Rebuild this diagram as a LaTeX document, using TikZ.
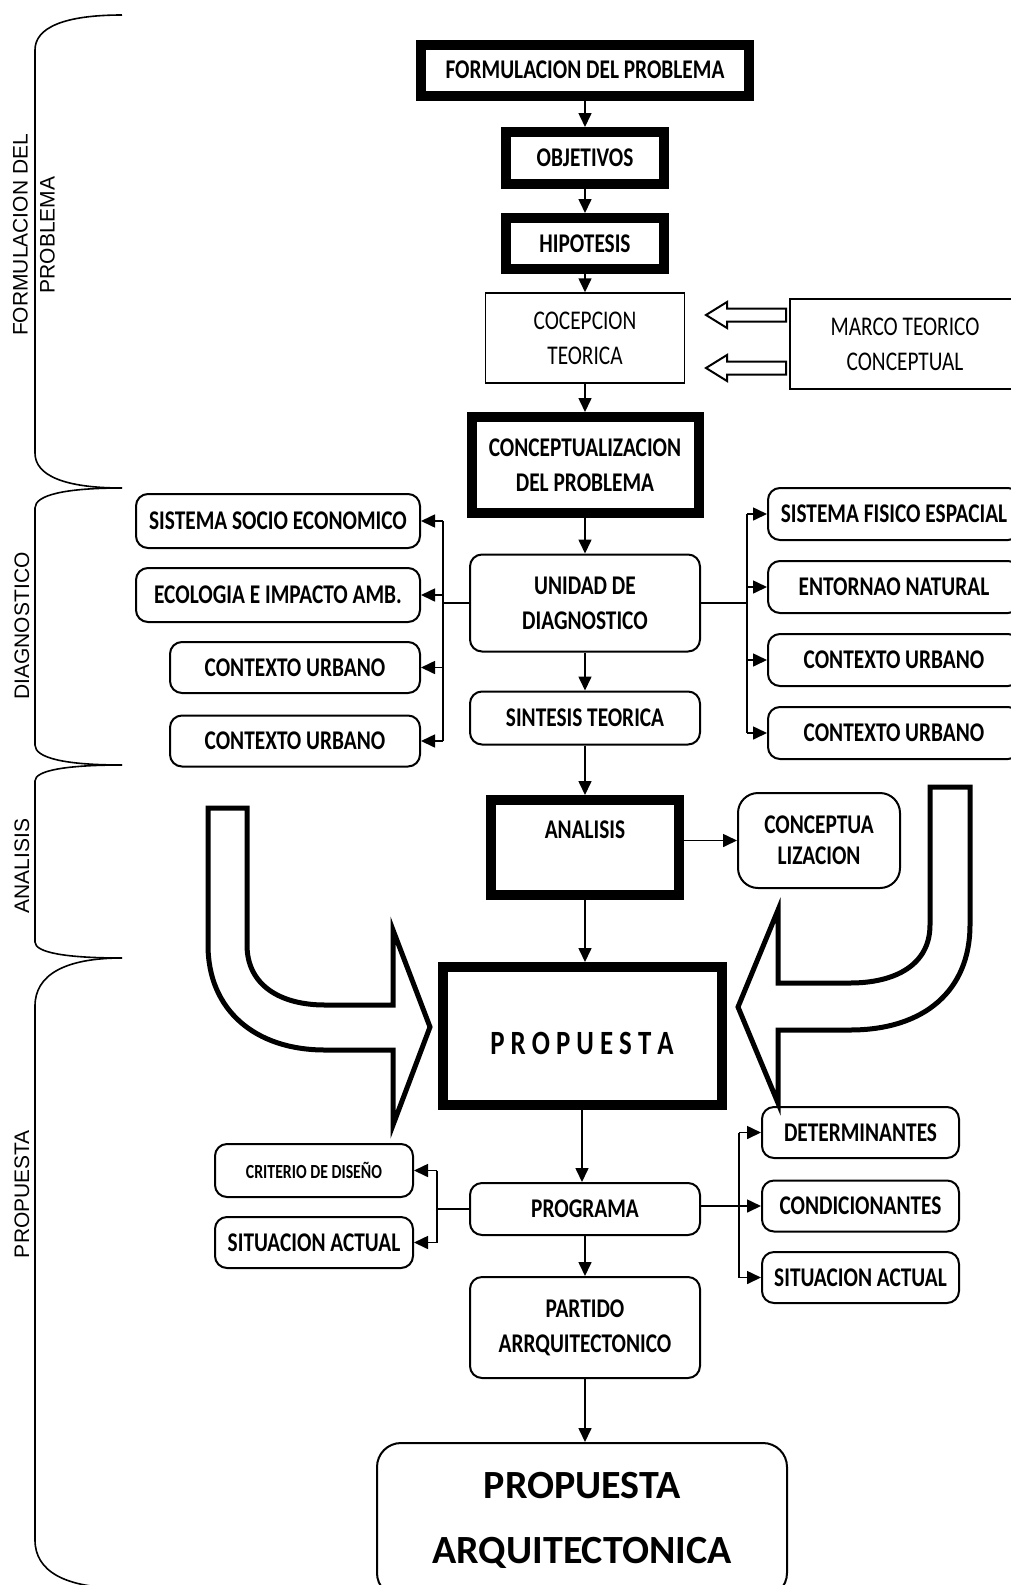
\documentclass[tikz,border=0pt]{standalone}
\usepackage{fontspec}
\usepackage{xcolor}
\usetikzlibrary{arrows.meta,calc}
\setmainfont{Carlito}
\newfontfamily\boxfont[FakeStretch=0.79]{Carlito}
\newfontfamily\sidefont{Liberation Sans}

\begin{document}
\begin{tikzpicture}[x=0.5pt,y=-0.5pt,
    >={Triangle[length=7pt,width=6.5pt]},
    every node/.style={inner sep=0pt,align=center},
    boxtxt/.style={font=\boxfont\bfseries\fontsize{13.5}{17.5}\selectfont},
    thickbox/.style={boxtxt,draw,line width=5pt},
    thinbox/.style={draw,line width=0.75pt,font=\boxfont\fontsize{13.5}{17.5}\selectfont},
    roundbox/.style={boxtxt,draw,line width=1pt,rounded corners=6pt},
    link/.style={line width=0.8pt},
    bigarrow/.style={line width=2.5pt,line join=miter},
    sidelabel/.style={font=\sidefont\fontsize{10.5}{13.5}\selectfont,rotate=90}]
              \useasboundingbox (0,0) rectangle (1011,1585);
              \clip (0,0) rectangle (1011,1585);
              % left brackets and their labels
              \foreach \ya/\yb/\r in {15/488/35,488/765/20,765/958/16,958/1588/48}
                \draw[line width=0.8pt] (122,\ya) .. controls (65,\ya) and (35,\ya+0.35*\r) .. (35,\ya+\r)
                  -- (35,\yb-\r) .. controls (35,\yb-0.35*\r) and (65,\yb) .. (122,\yb);
              \node[sidelabel] (lblform) at (34,235) {FORMULACION DEL\\PROBLEMA};
              \node[sidelabel] (lbldiag) at (22,626) {DIAGNOSTICO};
              \node[sidelabel] (lblanal) at (22,866) {ANALISIS};
              \node[sidelabel] (lblprop) at (22,1194) {PROPUESTA};
              % main column
              \node[thickbox,minimum width=164pt,minimum height=25.5pt] (form) at (585,70) {FORMULACION DEL PROBLEMA};
              \node[thickbox,minimum width=79pt,minimum height=26pt] (obj) at (585,158) {OBJETIVOS};
              \node[thickbox,minimum width=79pt,minimum height=25.5pt] (hip) at (585,243.5) {HIPOTESIS};
              \node[thinbox,minimum width=99.5pt,minimum height=45pt] (cocep) at (585,338) {COCEPCION\\TEORICA};
              \node[thinbox,minimum width=115pt,minimum height=45pt] (marco) at (905,344) {MARCO TEORICO\\CONCEPTUAL};
              \node[thickbox,minimum width=113.5pt,minimum height=48pt] (concep) at (585,465) {CONCEPTUALIZACION\\DEL PROBLEMA};
              \node[roundbox,minimum width=115pt,minimum height=48.5pt] (unidad) at (585,603) {UNIDAD DE\\DIAGNOSTICO};
              \node[roundbox,minimum width=115pt,minimum height=26.5pt] (sintesis) at (585,718) {SINTESIS TEORICA};
              \node[thickbox,minimum width=94pt,minimum height=47.5pt] (analisis) at (585,847.5) {ANALISIS\\ \mbox{}};
              \node[roundbox,rounded corners=10pt,minimum width=81pt,minimum height=47.5pt] (conceptua) at (819,840.5) {CONCEPTUA\\[-2pt]LIZACION};
              \node[thickbox,minimum width=139.5pt,minimum height=69pt,font=\boxfont\bfseries\fontsize{17}{20}\selectfont] (prop) at (582,1036)
                {\raisebox{-3.5pt}[\height][\depth]{P R O P U E S T A}};
              \node[roundbox,minimum width=115pt,minimum height=26pt] (programa) at (585,1209) {PROGRAMA};
              \node[roundbox,minimum width=115pt,minimum height=50.5pt] (partido) at (585,1327.5) {PARTIDO\\ARRQUITECTONICO};
              \node[roundbox,rounded corners=12pt,minimum width=205pt,minimum height=77pt,font=\bfseries\fontsize{20}{32.5}\selectfont] (proparq) at (582,1520)
                {PROPUESTA\\ARQUITECTONICA};
              % side boxes
              \foreach \n/\y/\t in {socio/521/SISTEMA SOCIO ECONOMICO,ecol/595/ECOLOGIA E IMPACTO AMB.}
                \node[roundbox,minimum width=142pt,minimum height=27pt] (\n) at (278,\y) {\t};
              \foreach \n/\y in {ctxA/667.5,ctxB/741}
                \node[roundbox,minimum width=125pt,minimum height=25.5pt] (\n) at (295,\y) {CONTEXTO URBANO};
              \foreach \n/\y/\t in {fisico/514/SISTEMA FISICO ESPACIAL,entorno/587/ENTORNAO NATURAL,ctxC/660/CONTEXTO URBANO,ctxD/733/CONTEXTO URBANO}
                \node[roundbox,minimum width=126pt,minimum height=26pt] (\n) at (894,\y) {\t};
              \node[roundbox,minimum width=99pt,minimum height=26.5pt,font=\boxfont\bfseries\fontsize{10}{11}\selectfont] (crit) at (314,1170.5) {CRITERIO DE DISEÑO};
              \node[roundbox,minimum width=99pt,minimum height=25.5pt] (sitA) at (314,1242.5) {SITUACION ACTUAL};
              \foreach \n/\y/\t in {deter/1132.5/DETERMINANTES,condi/1206/CONDICIONANTES,sitB/1277.5/SITUACION ACTUAL}
                \node[roundbox,minimum width=98.5pt,minimum height=25.5pt] (\n) at (860.5,\y) {\t};
              % vertical flow
              \foreach \a/\b in {form/obj,obj/hip,hip/cocep,cocep/concep,concep/unidad,unidad/sintesis,sintesis/analisis,analisis/prop,prop/programa,programa/partido,partido/proparq}
                \draw[link,->] (\a.south) -- (\a.south |- \b.north);
              % branches
              \coordinate (ltrunk) at (443,603);
              \coordinate (rtrunk) at (747,603);
              \draw[link] (unidad.west) -- (unidad.west -| ltrunk);
              \draw[link] (ltrunk |- socio.east) -- (ltrunk |- ctxB.east);
              \foreach \n in {socio,ecol,ctxA,ctxB}
                \draw[link,->] (ltrunk |- \n.east) -- (\n.east);
              \draw[link] (unidad.east) -- (unidad.east -| rtrunk);
              \draw[link] (rtrunk |- fisico.west) -- (rtrunk |- ctxD.west);
              \foreach \n in {fisico,entorno,ctxC,ctxD}
                \draw[link,->] (rtrunk |- \n.west) -- (\n.west);
              \draw[link,->] (conceptua.west -| analisis.east) -- (conceptua.west);
              \coordinate (pl) at (437,1206);
              \coordinate (pr) at (739,1206);
              \draw[link] (programa.west) -- (programa.west -| pl);
              \draw[link] (pl |- crit.east) -- (pl |- sitA.east);
              \foreach \n in {crit,sitA}
                \draw[link,->] (pl |- \n.east) -- (\n.east);
              \draw[link,->] (condi.west -| programa.east) -- (condi.west);
              \draw[link] (pr |- deter.west) -- (pr |- sitB.west);
              \foreach \n in {deter,sitB}
                \draw[link,->] (pr |- \n.west) -- (\n.west);
              % hollow arrows from the marco box
              \foreach \c in {315,368}
                \draw[line width=1pt] (786,\c-6.5) -- (727,\c-6.5) -- (727,\c-13) -- (706,\c) -- (727,\c+13) -- (727,\c+6.5) -- (786,\c+6.5) -- cycle;
              % big curved arrows into the propuesta
              \draw[bigarrow] (208,808) -- (247,808) -- (247,945) .. controls (247,985) and (280,1005) .. (325,1005) -- (393,1005) -- (393,930)
                -- (430,1027) -- (393,1125) -- (393,1050) -- (325,1050) .. controls (255,1050) and (208,1010) .. (208,945) -- cycle;
              \draw[bigarrow] (970,787) -- (930,787) -- (930,925) .. controls (930,965) and (895,983) .. (850,983) -- (778,983) -- (778,910)
                -- (738,1007) -- (778,1103) -- (778,1030) -- (850,1030) .. controls (925,1030) and (970,990) .. (970,925) -- cycle;
        \end{tikzpicture}
\end{document}
